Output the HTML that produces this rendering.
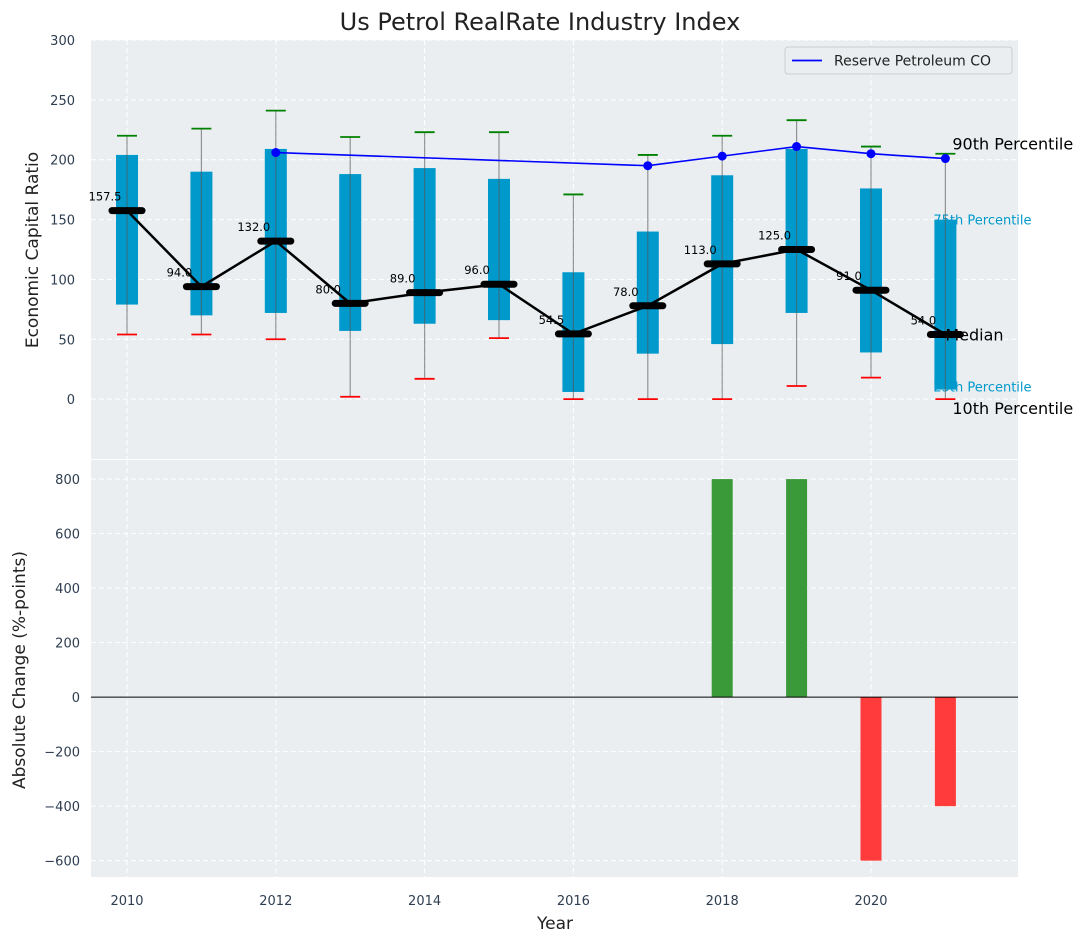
<!DOCTYPE html>
<html><head><meta charset="utf-8"><style>
body{margin:0;background:#fff;}
svg{display:block;font-family:"DejaVu Sans","Liberation Sans",sans-serif;}
</style></head><body>
<svg id="chart" width="1088" height="942" xmlns="http://www.w3.org/2000/svg"></svg>
<script>
const years=[2010,2011,2012,2013,2014,2015,2016,2017,2018,2019,2020,2021];
const p90=[220,226,241,219,223,223,171,204,220,233,211,205];
const q3=[204,190,209,188,193,184,106,140,187,209,176,150];
const medians=[157.5,94,132,80,89,96,54.5,78,113,125,91,54];
const q1=[79,70,72,57,63,66,6,38,46,72,39,8];
const p10=[54,54,50,2,17,51,0,0,0,11,18,0];
const companyYears=[2012,2017,2018,2019,2020,2021];
const companyValues=[206,195,203,211,205,201];
const changeYears=[2018,2019,2020,2021];
const changeValues=[800,800,-600,-400];
const topTicks=[0,50,100,150,200,250,300];
const bottomTicks=[-600,-400,-200,0,200,400,600,800];
const xTicks=[2010,2012,2014,2016,2018,2020];

const NS="http://www.w3.org/2000/svg";
const svg=document.getElementById('chart');
function mk(tag,attrs,parent){const e=document.createElementNS(NS,tag);for(const k in attrs)e.setAttribute(k,attrs[k]);(parent||svg).appendChild(e);return e;}
const L=91,R=1018;
const X=v=>L+(v-2009.516)/(2021.976-2009.516)*(R-L);
const T0=40,T1=459;const Yt=v=>T0+(300-v)/(300+50)*(T1-T0);
const B0=460,B1=877;const Yb=v=>B0+(870-v)/(870+660)*(B1-B0);

let e;
e=mk('rect',{x:L,y:T0,width:R-L,height:T1-T0,fill:'#eaeef0'});

e=mk('rect',{x:L,y:B0,width:R-L,height:B1-B0,fill:'#eaeef0'});


xTicks.forEach(t=>{[[T0,T1],[B0,B1]].forEach(([a,b])=>{e=mk('line',{x1:X(t),x2:X(t),y1:a,y2:b,stroke:'#fff','stroke-dasharray':'5,3','stroke-width':1});
});
e=mk('text',{x:X(t),y:905,'text-anchor':'middle','font-size':13,fill:'#2e3e50'});e.textContent=t;
});
topTicks.forEach(t=>{e=mk('line',{x1:L,x2:R,y1:Yt(t),y2:Yt(t),stroke:'#fff','stroke-dasharray':'5,3'});

e=mk('text',{x:75,y:Yt(t)+5,'text-anchor':'end','font-size':13,fill:'#2e3e50'});e.textContent=t;
});
bottomTicks.forEach(t=>{e=mk('line',{x1:L,x2:R,y1:Yb(t),y2:Yb(t),stroke:'#fff','stroke-dasharray':'5,3'});

e=mk('text',{x:80,y:Yb(t)+5,'text-anchor':'end','font-size':13,fill:'#2e3e50'});e.textContent=(t<0?'\u2212'+(-t):t);
});

const lx=X(2021);
e=mk('text',{x:lx-12,y:Yt(q3[11])+5,'font-size':13,fill:'#0099cc'});e.textContent='75th Percentile';

e=mk('text',{x:lx-12,y:Yt(q1[11])+2,'font-size':13,fill:'#0099cc'});e.textContent='25th Percentile';


years.forEach((y,i)=>{const cx=X(y),w=22;
e=mk('rect',{x:cx-w/2,y:Yt(q3[i]),width:w,height:Yt(q1[i])-Yt(q3[i]),fill:'#0099cc'});

e=mk('line',{x1:cx,x2:cx,y1:Yt(p90[i]),y2:Yt(p10[i]),stroke:'#555','stroke-opacity':0.6,'stroke-width':1.2});

e=mk('line',{x1:cx-10,x2:cx+10,y1:Yt(p90[i]),y2:Yt(p90[i]),stroke:'green','stroke-width':1.8});

e=mk('line',{x1:cx-10,x2:cx+10,y1:Yt(p10[i]),y2:Yt(p10[i]),stroke:'red','stroke-width':1.8});
});

e=mk('polyline',{points:years.map((y,i)=>X(y)+','+Yt(medians[i])).join(' '),fill:'none',stroke:'#000','stroke-width':2.5});

years.forEach((y,i)=>{const cx=X(y);
e=mk('line',{x1:cx-15,x2:cx+15,y1:Yt(medians[i]),y2:Yt(medians[i]),stroke:'#000','stroke-width':7,'stroke-linecap':'round'});

e=mk('text',{x:cx-22,y:Yt(medians[i])-10,'text-anchor':'middle','font-size':11.5,fill:'#000'});e.textContent=medians[i].toFixed(1);
});

e=mk('polyline',{points:companyYears.map((y,i)=>X(y)+','+Yt(companyValues[i])).join(' '),fill:'none',stroke:'#0000ff','stroke-width':1.6});

companyYears.forEach((y,i)=>{e=mk('circle',{cx:X(y),cy:Yt(companyValues[i]),r:4.5,fill:'#0000ff'});
});

e=mk('text',{x:lx+7,y:Yt(p90[11])-4,'font-size':16,fill:'#000'});e.textContent='90th Percentile';

e=mk('text',{x:lx,y:Yt(medians[11])+6,'font-size':16,fill:'#000'});e.textContent='Median';

e=mk('text',{x:lx+7,y:Yt(p10[11])+15,'font-size':16,fill:'#000'});e.textContent='10th Percentile';


const lg=mk('g',{});

mk('rect',{x:785,y:47,width:227,height:27,rx:3,fill:'#eaeef0',stroke:'#ccc'},lg);
mk('line',{x1:792,x2:822,y1:60.5,y2:60.5,stroke:'#0000ff','stroke-width':1.8},lg);
e=mk('text',{x:834,y:65.5,'font-size':14,fill:'#222'},lg);e.textContent='Reserve Petroleum CO';


changeYears.forEach((y,i)=>{const v=changeValues[i];
e=mk('rect',{x:X(y)-10.5,y:Math.min(Yb(v),Yb(0)),width:21,height:Math.abs(Yb(v)-Yb(0)),fill:v>=0?'#3a9a3a':'#ff3b3b'});
});
e=mk('line',{x1:L,x2:R,y1:Yb(0),y2:Yb(0),stroke:'#000','stroke-width':1});


e=mk('text',{x:540,y:30,'text-anchor':'middle','font-size':24,fill:'#222'});e.textContent='Us Petrol RealRate Industry Index';

e=mk('text',{x:0,y:0,'text-anchor':'middle','font-size':17,fill:'#222',transform:'translate(38,250) rotate(-90)'});e.textContent='Economic Capital Ratio';

e=mk('text',{x:0,y:0,'text-anchor':'middle','font-size':17,fill:'#222',transform:'translate(25,670) rotate(-90)'});e.textContent='Absolute Change (%-points)';

e=mk('text',{x:555,y:929,'text-anchor':'middle','font-size':17,fill:'#222'});e.textContent='Year';

</script>
</body></html>
